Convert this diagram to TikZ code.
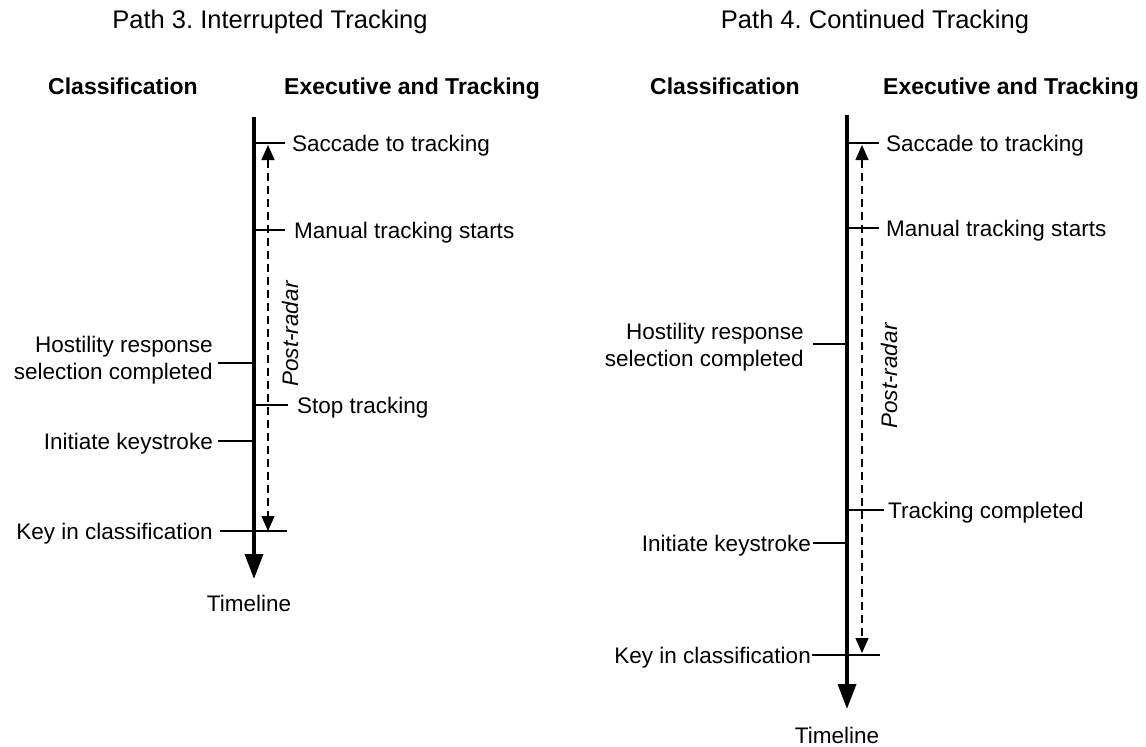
\documentclass[tikz,border=0pt]{standalone}
\usepackage{fontspec}
\setmainfont{Liberation Sans}
\usetikzlibrary{arrows.meta}
\frenchspacing
\begin{document}
\begin{tikzpicture}[x=1pt,y=-1pt,
  lbl/.style={inner sep=0pt, font=\fontsize{22.5}{27}\selectfont},
  hdr/.style={inner sep=0pt, font=\fontsize{23}{27}\selectfont\bfseries},
  ttl/.style={inner sep=0pt, font=\fontsize{25.5}{30}\selectfont},
  axisline/.style={line width=3.5pt, -{Triangle[length=25pt,width=18pt]}},
  tickline/.style={line width=1.3pt},
  spanline/.style={line width=1.4pt, dash pattern=on 8pt off 5pt,
    {Triangle[length=15pt,width=13pt]}-{Triangle[length=15pt,width=13pt]}},
]
\useasboundingbox (0,0) rectangle (1146,747);

% ---------------- Left: Path 3 ----------------
\node[ttl, anchor=base] (Ltitle) at (270,28) {Path 3. Interrupted Tracking};
\node[hdr, anchor=base] (Lcls) at (123,94) {Classification};
\node[hdr, anchor=base] (Lexe) at (412,94) {Executive and Tracking};

\coordinate (Ltop) at (254,117);
\coordinate (Lbot) at (254,579);
\draw[axisline] (Ltop) -- (Lbot);
\node[lbl, anchor=base] (Ltime) at (249,611) {Timeline};

% Saccade to tracking
\coordinate (La1) at (254,143); \coordinate (La2) at (285,143);
\draw[tickline] (La1) -- (La2);
\node[lbl, anchor=base west] (Lsac) at (292,151) {Saccade to tracking};
% Manual tracking starts
\coordinate (Lb1) at (254,230); \coordinate (Lb2) at (285,230);
\draw[tickline] (Lb1) -- (Lb2);
\node[lbl, anchor=base west] (Lman) at (294,238) {Manual tracking starts};
% Hostility
\coordinate (Lc1) at (218,363); \coordinate (Lc2) at (254,363);
\draw[tickline] (Lc1) -- (Lc2);
\node[lbl, anchor=east, align=right] (Lhos) at (213,360) {Hostility response\\selection completed};
% Stop tracking
\coordinate (Ld1) at (255,405); \coordinate (Ld2) at (288,405);
\draw[tickline] (Ld1) -- (Ld2);
\node[lbl, anchor=base west] (Lstop) at (297,413) {Stop tracking};
% Initiate keystroke
\coordinate (Le1) at (218,441); \coordinate (Le2) at (254,441);
\draw[tickline] (Le1) -- (Le2);
\node[lbl, anchor=base east] (Linit) at (213,449) {Initiate keystroke};
% Key in classification
\coordinate (Lf1) at (220,531); \coordinate (Lf2) at (287,531);
\draw[tickline] (Lf1) -- (Lf2);
\node[lbl, anchor=base east] (Lkey) at (213,539) {Key in classification};

% Post-radar span
\coordinate (Lp1) at (268,145); \coordinate (Lp2) at (268,531);
\draw[spanline] (Lp1) -- (Lp2);
\node[lbl, rotate=90, font=\fontsize{22.5}{27}\selectfont\itshape] (Lpost) at (290,334) {Post-radar};

% ---------------- Right: Path 4 ----------------
\node[ttl, anchor=base] (Rtitle) at (875,28) {Path 4. Continued Tracking};
\node[hdr, anchor=base] (Rcls) at (725,94) {Classification};
\node[hdr, anchor=base] (Rexe) at (1011,94) {Executive and Tracking};

\coordinate (Rtop) at (847,115);
\coordinate (Rbot) at (847,709);
\draw[axisline] (Rtop) -- (Rbot);
\node[lbl, anchor=base] (Rtime) at (837,743) {Timeline};

% Saccade to tracking
\coordinate (Ra1) at (847,143); \coordinate (Ra2) at (879,143);
\draw[tickline] (Ra1) -- (Ra2);
\node[lbl, anchor=base west] (Rsac) at (886,151) {Saccade to tracking};
% Manual tracking starts
\coordinate (Rb1) at (847,228); \coordinate (Rb2) at (879,228);
\draw[tickline] (Rb1) -- (Rb2);
\node[lbl, anchor=base west] (Rman) at (886,236) {Manual tracking starts};
% Hostility
\coordinate (Rc1) at (813,344); \coordinate (Rc2) at (847,344);
\draw[tickline] (Rc1) -- (Rc2);
\node[lbl, anchor=east, align=right] (Rhos) at (804,347) {Hostility response\\selection completed};
% Tracking completed
\coordinate (Rd1) at (847,510); \coordinate (Rd2) at (884,510);
\draw[tickline] (Rd1) -- (Rd2);
\node[lbl, anchor=base west] (Rtrk) at (888,518) {Tracking completed};
% Initiate keystroke
\coordinate (Re1) at (813,543); \coordinate (Re2) at (847,543);
\draw[tickline] (Re1) -- (Re2);
\node[lbl, anchor=base east] (Rinit) at (811,551) {Initiate keystroke};
% Key in classification
\coordinate (Rf1) at (812,655); \coordinate (Rf2) at (880,655);
\draw[tickline] (Rf1) -- (Rf2);
\node[lbl, anchor=base east] (Rkey) at (811,663) {Key in classification};

% Post-radar span
\coordinate (Rp1) at (862,145); \coordinate (Rp2) at (862,653);
\draw[spanline] (Rp1) -- (Rp2);
\node[lbl, rotate=90, font=\fontsize{22.5}{27}\selectfont\itshape] (Rpost) at (889,376) {Post-radar};
\end{tikzpicture}
\end{document}
